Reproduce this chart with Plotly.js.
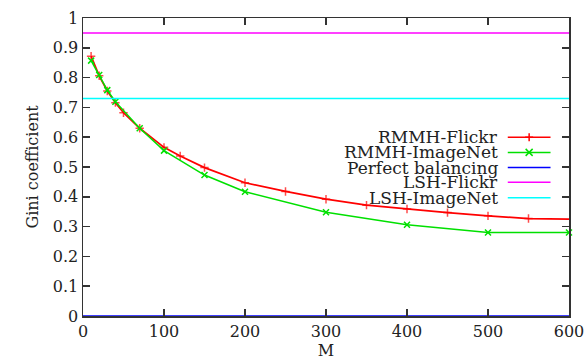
<!DOCTYPE html>
<html><head><meta charset="utf-8">
<script src="https://cdn.plot.ly/plotly-3.0.1.min.js"></script>
<style>html,body{margin:0;padding:0;background:#fff}#chart{width:587px;height:360px}</style>
</head><body><div id="chart"></div>
<script>
const seriesNames = ['RMMH-Flickr', 'RMMH-ImageNet', 'Perfect balancing', 'LSH-Flickr', 'LSH-ImageNet'];
const flickrM = [10, 20, 30, 40, 50, 70, 100, 120, 150, 200, 250, 300, 350, 400, 450, 500, 550, 600];
const flickrGini = [0.872, 0.806, 0.755, 0.716, 0.682, 0.630, 0.566, 0.537, 0.498, 0.447, 0.418, 0.392, 0.372, 0.359, 0.347, 0.336, 0.327, 0.325];
const imagenetM = [10, 20, 30, 40, 70, 100, 150, 200, 300, 400, 500, 600];
const imagenetGini = [0.857, 0.809, 0.758, 0.719, 0.630, 0.555, 0.473, 0.417, 0.348, 0.306, 0.280, 0.280];
const baselineM = [0, 600];
const perfectGini = [0, 0];
const lshFlickrGini = [0.95, 0.95];
const lshImageNetGini = [0.73, 0.73];

const colors = ['#ff0000', '#00e000', '#0000ff', '#ff00ff', '#00ffff'];
const FONT = "'DejaVu Serif', serif";
const FS = 16;
const LFS = 17;

const traces = [
  {x: flickrM, y: flickrGini, mode: 'lines+markers', name: seriesNames[0],
   line: {color: colors[0], width: 1.7},
   marker: {symbol: 'cross-thin-open', size: flickrM.map(m => m < 600 ? 6 : 0), line: {color: colors[0], width: 1.5}}},
  {x: imagenetM, y: imagenetGini, mode: 'lines+markers', name: seriesNames[1],
   line: {color: colors[1], width: 1.5},
   marker: {symbol: 'x-thin-open', size: 6, line: {color: colors[1], width: 1.5}}},
  {x: baselineM, y: perfectGini, mode: 'lines', name: seriesNames[2], line: {color: colors[2], width: 1.5}},
  {x: baselineM, y: lshFlickrGini, mode: 'lines', name: seriesNames[3], line: {color: colors[3], width: 1.5}},
  {x: baselineM, y: lshImageNetGini, mode: 'lines', name: seriesNames[4], line: {color: colors[4], width: 1.5}}
].map(t => Object.assign(t, {showlegend: false, cliponaxis: false, hoverinfo: 'skip'}));

// custom gnuplot-style legend (text right, sample left)
const rowY = [0.600, 0.549, 0.498, 0.449, 0.397];
const textRight = 0.855, sx0 = 0.874, sx1 = 0.962, sxm = 0.918;
const annotations = [], shapes = [];
seriesNames.forEach((n, i) => {
  annotations.push({xref: 'paper', yref: 'paper', x: textRight, y: rowY[i], xanchor: 'right', yanchor: 'middle',
    text: n, showarrow: false, borderpad: 0, font: {family: FONT, size: LFS, color: '#222'}});
  shapes.push({type: 'line', xref: 'paper', yref: 'paper', x0: sx0, x1: sx1, y0: rowY[i], y1: rowY[i],
    line: {color: colors[i], width: 1.5}});
});
shapes.push({type: 'path', xref: 'paper', yref: 'paper', xsizemode: 'pixel', ysizemode: 'pixel',
  xanchor: sxm, yanchor: rowY[0], path: 'M-4,0H4M0,-4V4', line: {color: colors[0], width: 1.5}});
shapes.push({type: 'path', xref: 'paper', yref: 'paper', xsizemode: 'pixel', ysizemode: 'pixel',
  xanchor: sxm, yanchor: rowY[1], path: 'M-3.5,-3.5L3.5,3.5M-3.5,3.5L3.5,-3.5', line: {color: colors[1], width: 1.5}});

const axisCommon = {
  showline: true, linecolor: '#333', linewidth: 1.5, mirror: 'ticks',
  ticks: 'inside', ticklen: 7, tickwidth: 1.5, tickcolor: '#333',
  showgrid: false, zeroline: false,
  tickfont: {family: FONT, size: FS, color: '#222'}
};

const layout = {
  width: 587, height: 360,
  margin: {l: 83, r: 18, t: 18, b: 44},
  paper_bgcolor: '#fff', plot_bgcolor: '#fff',
  showlegend: false,
  xaxis: Object.assign({}, axisCommon, {range: [0, 600], dtick: 100, tick0: 0, automargin: false,
    title: {text: 'M', font: {family: FONT, size: FS, color: '#222'}, standoff: 0}}),
  yaxis: Object.assign({}, axisCommon, {range: [0, 1], dtick: 0.1, tick0: 0, automargin: false,
    title: {text: 'Gini coefficient', font: {family: FONT, size: FS, color: '#222'}, standoff: 10}}),
  annotations: annotations,
  shapes: shapes
};

Plotly.newPlot('chart', traces, layout, {displayModeBar: false, staticPlot: true});
</script>
</body></html>
